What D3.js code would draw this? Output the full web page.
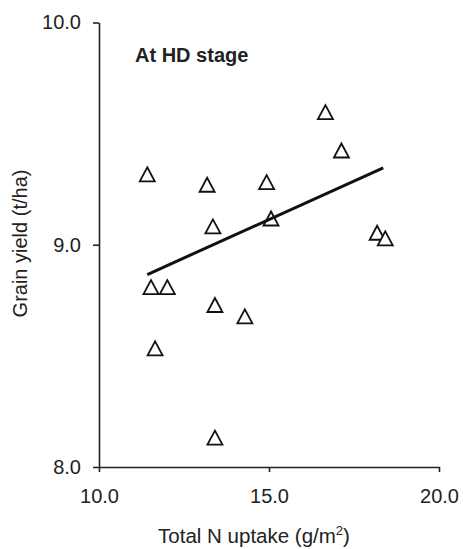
<!DOCTYPE html>
<html>
<head>
<meta charset="utf-8">
<script src="https://cdn.jsdelivr.net/npm/d3@7"></script>
<style>
  body { margin: 0; background: #fff; }
  svg { display: block; font-family: "Liberation Sans", Arial, sans-serif; }
  .axis path, .axis line { stroke: #222; stroke-width: 1.6; }
  .axis text { fill: #222; font-size: 20px; }
</style>
</head>
<body>
<svg id="chart" width="463" height="549"></svg>
<script>
// total N uptake (g/m2) vs grain yield (t/ha)
var uptake = [11.42, 13.18, 14.93, 13.35, 15.06, 11.53, 12.01, 13.41, 14.29, 11.65, 13.41, 16.66, 17.13, 18.18, 18.42];
var yieldVals = [9.317, 9.270, 9.282, 9.083, 9.118, 8.809, 8.809, 8.729, 8.678, 8.534, 8.132, 9.597, 9.424, 9.054, 9.029];

// trend line end points
var trendX = [11.42, 18.36];
var trendY = [8.866, 9.346];

var xTicks = [10, 15, 20];
var yTicks = [8, 9, 10];

var margin = {top: 22.5, right: 24, bottom: 82, left: 99},
    width = 463 - margin.left - margin.right,
    height = 549 - margin.top - margin.bottom;

var svg = d3.select("#chart");

var x = d3.scaleLinear().domain([10, 20]).range([margin.left, margin.left + width]);
var y = d3.scaleLinear().domain([8, 10]).range([margin.top + height, margin.top]);

svg.append("g")
    .attr("class", "axis")
    .attr("transform", "translate(0," + (margin.top + height) + ")")
    .call(d3.axisBottom(x).tickValues(xTicks).tickFormat(d3.format(".1f")).tickSize(5).tickSizeOuter(0).tickPadding(17));

svg.append("g")
    .attr("class", "axis")
    .attr("transform", "translate(" + margin.left + ",0)")
    .call(d3.axisLeft(y).tickValues(yTicks).tickFormat(d3.format(".1f")).tickSize(6).tickSizeOuter(0).tickPadding(12));

// markers: open triangles
var tri = "M0,-7L7.5,7L-7.5,7Z";
svg.append("g").selectAll("path")
    .data(uptake)
    .enter().append("path")
    .attr("d", tri)
    .attr("transform", function(d, i) { return "translate(" + x(d) + "," + y(yieldVals[i]) + ")"; })
    .attr("fill", "#fff")
    .attr("stroke", "#111")
    .attr("stroke-width", 1.8)
    .attr("stroke-linejoin", "miter");

svg.append("path")
    .datum(trendX)
    .attr("d", d3.line().x(function(d) { return x(d); }).y(function(d, i) { return y(trendY[i]); }))
    .attr("stroke", "#111")
    .attr("stroke-width", 3)
    .attr("fill", "none");

svg.append("text")
    .attr("x", 135).attr("y", 61.5)
    .attr("font-size", 20).attr("font-weight", "bold").attr("fill", "#222")
    .text("At HD stage");

var xl = svg.append("text")
    .attr("x", 254).attr("y", 543)
    .attr("text-anchor", "middle")
    .attr("font-size", 20.5).attr("fill", "#222");
xl.append("tspan").text("Total N uptake (g/m");
xl.append("tspan").attr("font-size", 13).attr("dy", -8).text("2");
xl.append("tspan").attr("dy", 8).text(")");

svg.append("text")
    .attr("transform", "rotate(-90)")
    .attr("x", -243.5).attr("y", 27)
    .attr("text-anchor", "middle")
    .attr("font-size", 20).attr("fill", "#222")
    .text("Grain yield (t/ha)");
</script>
</body>
</html>
